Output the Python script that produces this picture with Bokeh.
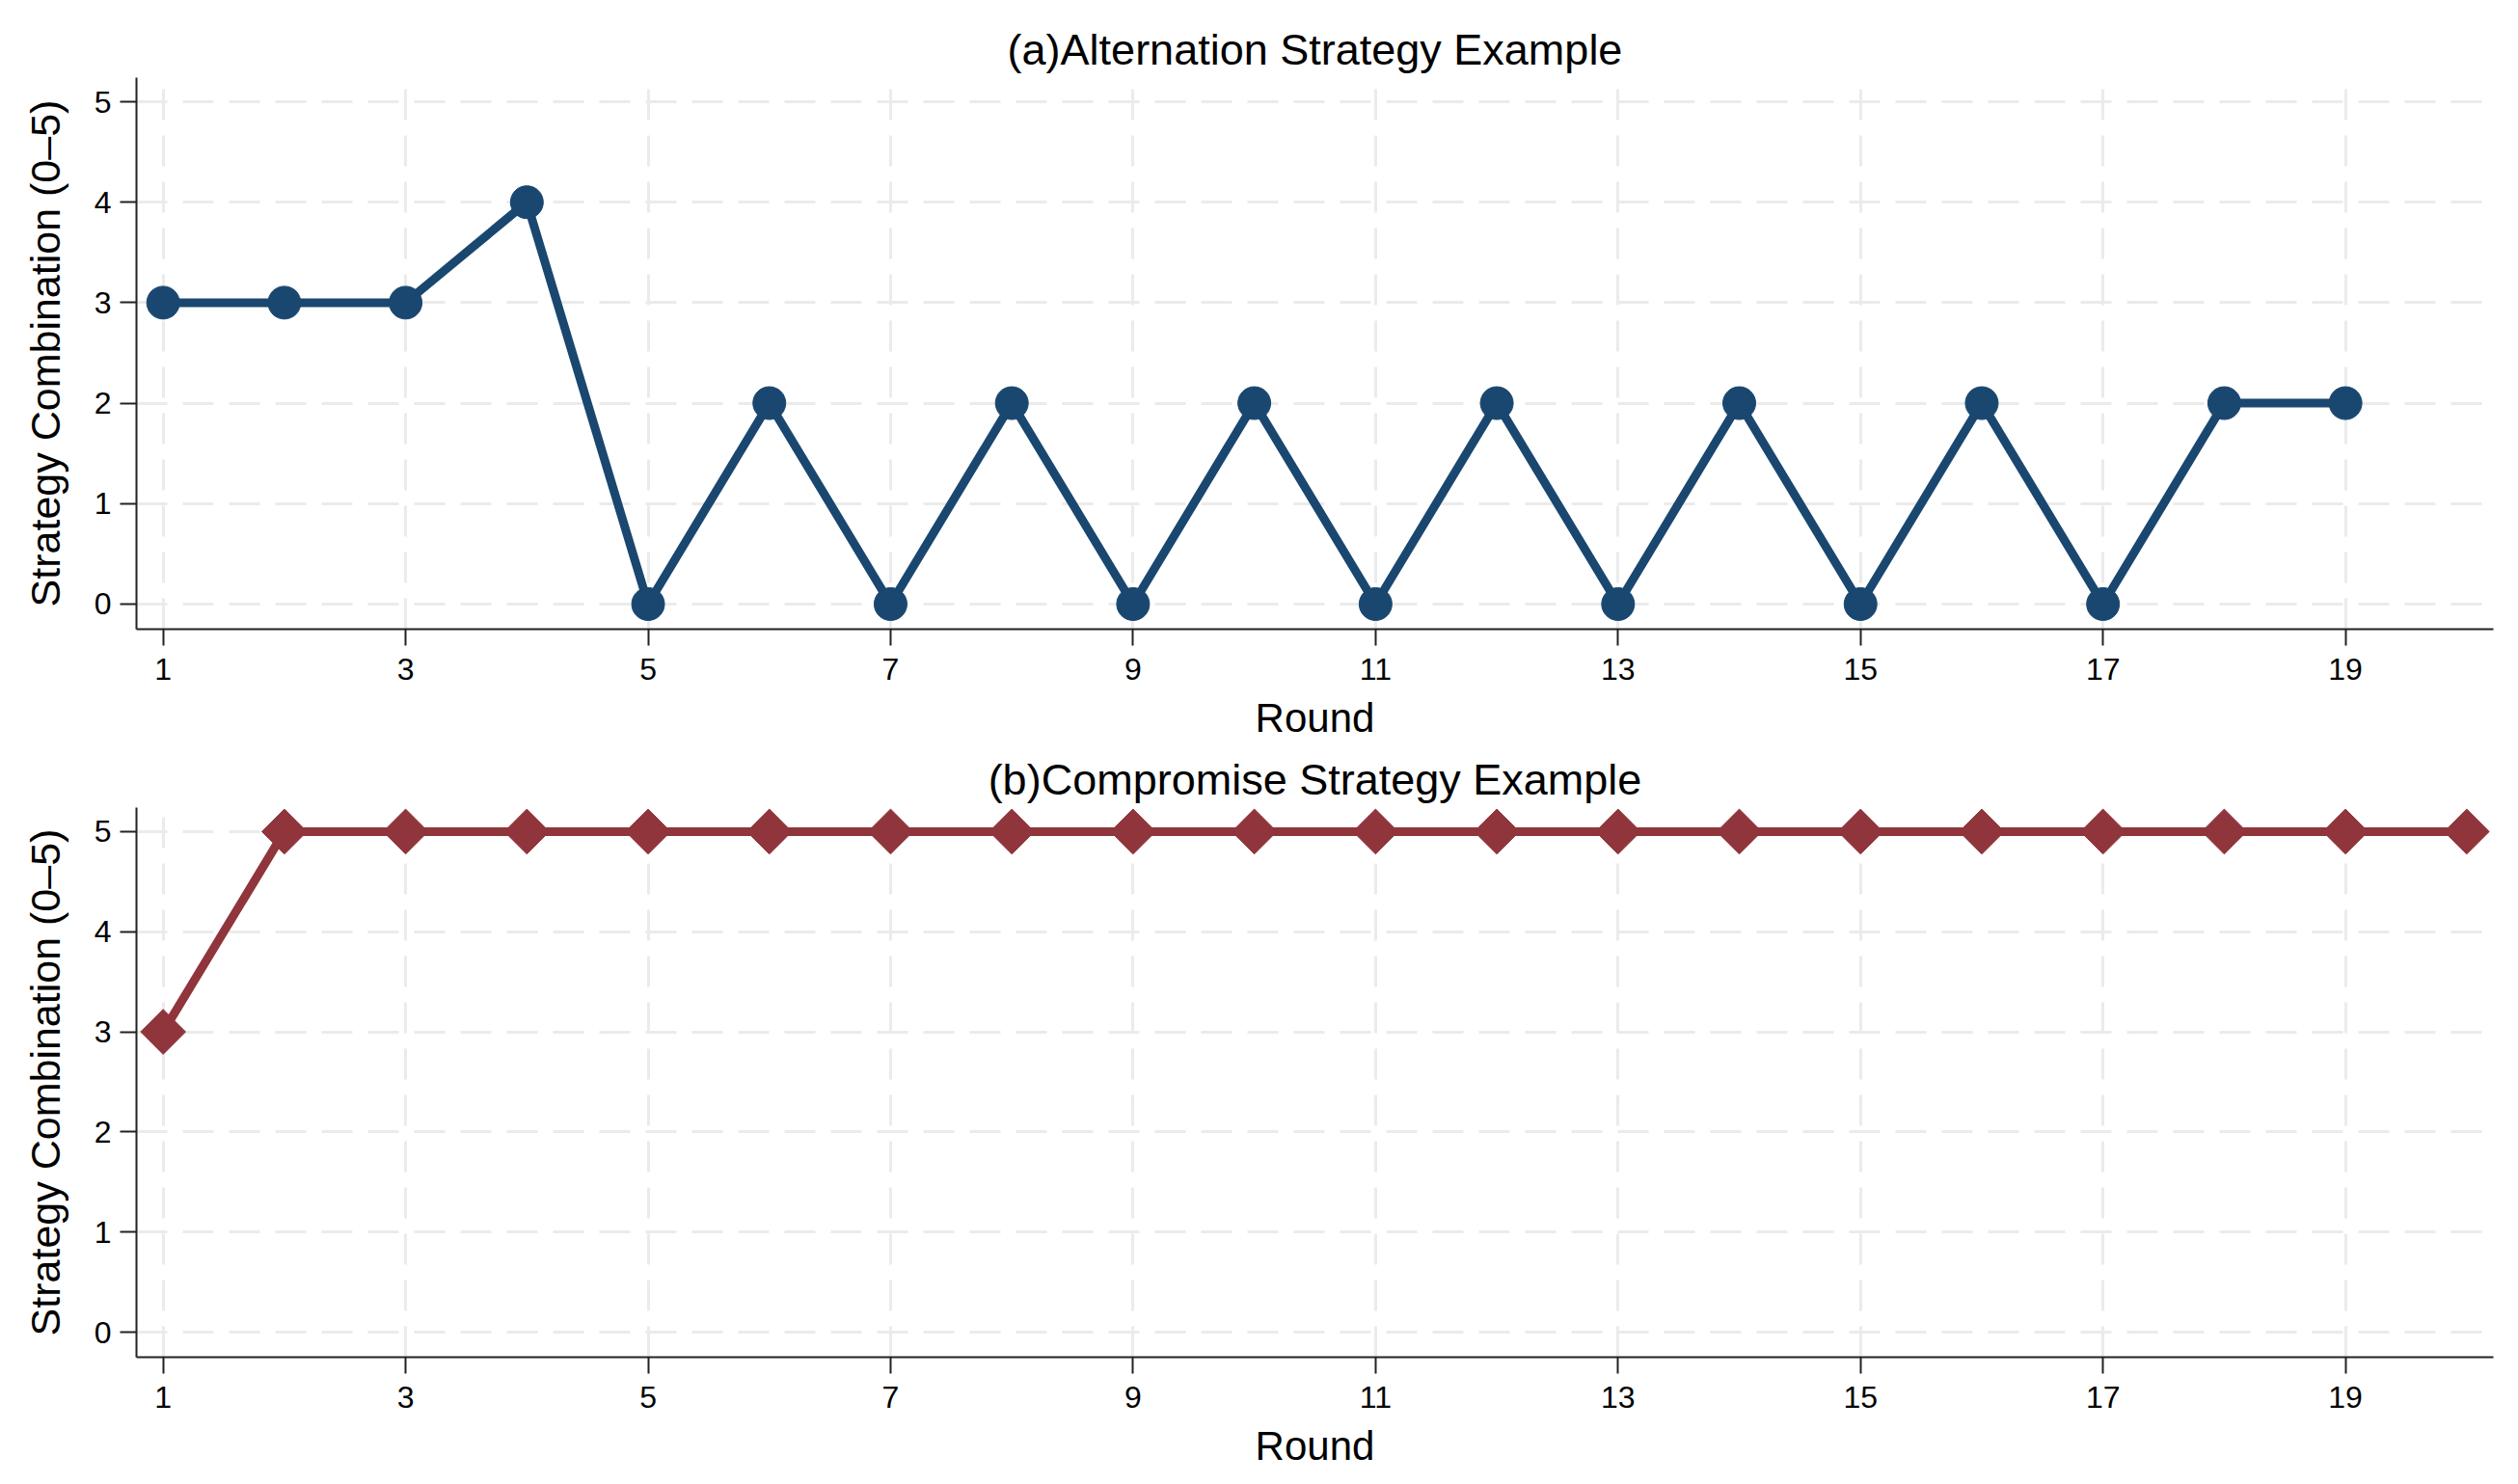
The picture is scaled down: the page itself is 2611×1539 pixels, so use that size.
from bokeh.plotting import figure
from bokeh.layouts import column
from bokeh.models import Range1d, FixedTicker
from bokeh.embed import file_html
from bokeh.resources import INLINE

# ---- data ----
rounds_a = list(range(1, 20))
values_a = [3, 3, 3, 4, 0, 2, 0, 2, 0, 2, 0, 2, 0, 2, 0, 2, 0, 2, 2]
rounds_b = list(range(1, 21))
values_b = [3, 5, 5, 5, 5, 5, 5, 5, 5, 5, 5, 5, 5, 5, 5, 5, 5, 5, 5, 5]
x_ticks = [1, 3, 5, 7, 9, 11, 13, 15, 17, 19]
y_ticks = [0, 1, 2, 3, 4, 5]
title_a = "(a)Alternation Strategy Example"
title_b = "(b)Compromise Strategy Example"
x_label = "Round"
y_label = "Strategy Combination (0\u20135)"

NAVY = "#1a476f"
MAROON = "#90353b"
FONT = "Liberation Sans"


def make_fig(title, height, border_top, border_bottom):
    p = figure(width=2595, height=height, output_backend="svg",
               toolbar_location=None, tools="",
               x_range=Range1d(0.78, 20.22), y_range=Range1d(-0.25, 5.24),
               min_border_left=141, min_border_right=10,
               min_border_top=border_top, min_border_bottom=border_bottom)
    p.outline_line_color = None
    p.background_fill_color = "white"
    p.border_fill_color = "white"

    p.title.text = title
    p.title.align = "center"
    p.title.text_font = FONT
    p.title.text_font_size = "45px"
    p.title.text_font_style = "normal"
    p.title.text_color = "black"
    p.title.standoff = 7

    for ax in (p.xaxis[0], p.yaxis[0]):
        ax.axis_line_color = "#222222"
        ax.axis_line_width = 2
        ax.major_tick_line_color = "#222222"
        ax.major_tick_line_width = 2
        ax.major_tick_out = 17
        ax.major_tick_in = 0
        ax.minor_tick_out = 0
        ax.minor_tick_in = 0
        ax.major_label_text_font = FONT
        ax.major_label_text_font_size = "32px"
        ax.major_label_text_color = "black"
        ax.axis_label_text_font = FONT
        ax.axis_label_text_font_style = "normal"
        ax.axis_label_text_color = "black"

    p.xaxis.ticker = FixedTicker(ticks=x_ticks)
    p.yaxis.ticker = FixedTicker(ticks=y_ticks)
    p.xaxis.axis_label = x_label
    p.yaxis.axis_label = y_label
    p.xaxis.axis_label_text_font_size = "42px"
    p.yaxis.axis_label_text_font_size = "43px"
    p.xaxis.major_label_standoff = 13
    p.xaxis.axis_label_standoff = 13
    p.yaxis.major_label_standoff = 9
    p.yaxis.axis_label_standoff = 24
    p.yaxis.major_label_orientation = "horizontal"

    for g in (p.xgrid[0], p.ygrid[0]):
        g.grid_line_color = "#ebebeb"
        g.grid_line_width = 3
        g.grid_line_dash = "32 16"
    return p


p1 = make_fig(title_a, 770, 80, 118)
p1.line(rounds_a, values_a, line_color=NAVY, line_width=9)
p1.scatter(rounds_a, values_a, marker="circle", size=34,
           fill_color=NAVY, line_color=NAVY)

p2 = make_fig(title_b, 761, 67, 124)
p2.line(rounds_b, values_b, line_color=MAROON, line_width=9)
p2.scatter(rounds_b, values_b, marker="square", size=33, angle=0.7853981633974483,
           fill_color=MAROON, line_color=MAROON)

layout = column(p1, p2, spacing=0)
open("out.html", "w").write(file_html(layout, INLINE))
